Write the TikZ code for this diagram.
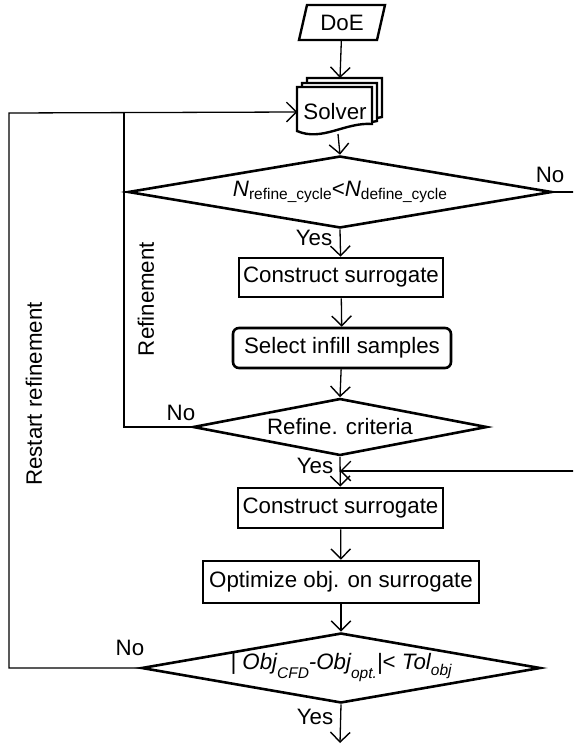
\documentclass[tikz,border=0pt]{standalone}
\usepackage{fontspec}
\setmainfont{Liberation Sans}
\usetikzlibrary{arrows.meta,shapes.geometric}
\newcommand{\subsz}{\fontsize{15.5}{16}\selectfont}

\begin{document}
\begin{tikzpicture}[x=1pt,y=-1pt,font=\fontsize{22.3}{24}\selectfont,
    box/.style={draw,line width=2.6pt,rectangle,inner sep=0pt},
    rbox/.style={box,rounded corners=6pt},
    decision/.style={draw,line width=2.6pt,diamond,inner sep=0pt},
    flow/.style={line width=1.3pt,-{Straight Barb[length=7pt,width=14pt,line width=1.4pt,scale=1.4]}},
    line/.style={line width=1.3pt}]
        \clip (0,0) rectangle (573,747);
        \fill[white] (0,0) rectangle (573,747);

        \draw[line width=2.4pt] (307,5) -- (385,5) -- (377,40) -- (299,40) -- cycle;
        \node[inner sep=0pt,minimum width=70,minimum height=35] (doe) at (342,22.5) {DoE};

        \draw[line width=2.4pt,fill=white] (307,83) -- (307,78) -- (382,78) -- (382,117) -- (377,118);
        \draw[line width=2.4pt,fill=white] (302,87) -- (302,83) -- (377,83) -- (377,121) -- (372,122);
        \draw[line width=2.4pt,fill=white] (297,87) -- (372,87) -- (372,124)
              .. controls (345,122) and (322,142) .. (297,131) -- cycle;
        \node[inner sep=0pt,minimum width=75,minimum height=44] (solver) at (335,112) {Solver};
        \coordinate (stacktop) at (340,78);
        \coordinate (solverbot) at (338,134);

        \node[decision,minimum width=424,minimum height=72,aspect=5.9] (cyc) at (340,192)
              {{\itshape N}\raisebox{-3pt}{\subsz refine\_cycle}<{\itshape N}\raisebox{-3pt}{\subsz define\_cycle}};
        \node[box,minimum width=204,minimum height=39] (sur1) at (341,277.5) {Construct surrogate};
        \node[rbox,minimum width=218,minimum height=40] (infill) at (342,348) {Select infill samples};
        \node[decision,minimum width=294,minimum height=57,aspect=5.2] (crit) at (340,427) {Refine. criteria};
        \node[box,minimum width=205,minimum height=40] (sur2) at (340.5,508) {Construct surrogate};
        \node[box,minimum width=276,minimum height=42] (opt) at (341,582) {Optimize obj. on surrogate};
        \node[decision,minimum width=399,minimum height=70,aspect=5.7] (tol) at (341,668)
              {{\itshape | Obj\raisebox{-9pt}{\subsz CFD}-Obj\raisebox{-9pt}{\subsz opt.}|}< {\itshape Tol\raisebox{-6pt}{\subsz obj}}};

        \coordinate (merge) at (340,471);
        \coordinate (stop) at (340,743);
        \coordinate (rejoin) at (124,113);
        \coordinate (restart) at (9,113);

        \draw[flow] (doe) -- (stacktop);
        \draw[flow] (solverbot) -- (cyc.north);
        \draw[flow] (cyc.south) -- (sur1);
        \draw[flow] (sur1) -- (infill);
        \draw[flow] (infill) -- (crit.north);
        \draw[flow] (crit.south) -- (sur2);
        \draw[flow] (sur2) -- (opt);
        \draw[flow] (opt) -- (tol.north);
        \draw[flow] (tol.south) -- (stop);
        \draw[flow] (cyc.east) -- ++(40,0) |- (merge);
        \draw[line] (crit.west) -| (rejoin);
        \draw[flow] (tol.west) -| (restart) -- (solver.west);

        \node (no1) at (550,175) {No};
        \node (yes1) at (314,238) {Yes};
        \node (no2) at (181,413) {No};
        \node (yes2) at (315,466) {Yes};
        \node (no3) at (130,648) {No};
        \node (yes3) at (315,717) {Yes};
        \node[rotate=90] (refine) at (146,299) {Refinement};
        \node[rotate=90] (restartlbl) at (34,394) {Restart refinement};
\end{tikzpicture}
\end{document}
